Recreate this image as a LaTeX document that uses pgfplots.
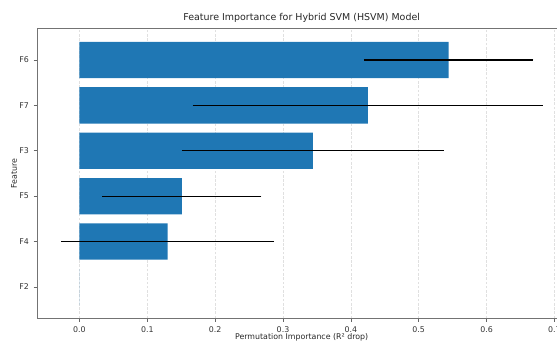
\documentclass[border=0pt]{standalone}
\usepackage{pgfplots}
\pgfplotsset{compat=1.18}
\usepackage{fontspec}
\setmainfont{DejaVu Sans}
\definecolor{barblue}{HTML}{1F77B4}
\begin{document}
\begin{tikzpicture}
\useasboundingbox (-27.75pt,-17pt) rectangle (390pt,238.75pt);
\clip (-27.75pt,-17pt) rectangle (390pt,238.75pt);
\begin{axis}[
  at={(0,0)}, anchor=south west,
  scale only axis, width=397pt, height=217.3pt,
  xmin=-0.0625, xmax=0.7175, ymin=-0.69, ymax=5.69,
  xbar, bar width=0.8, bar shift=0pt,
  ytick={0,1,2,3,4,5}, yticklabels={F2,F4,F5,F3,F7,F6},
  xtick={0,0.1,0.2,0.3,0.4,0.5,0.6,0.7},
  xticklabel style={/pgf/number format/.cd, fixed, fixed zerofill, precision=1, assume math mode=true},
  ticklabel style={font=\fontsize{5.9}{7}\selectfont, text=black!80},
  tick pos=left, tick align=outside, major tick length=2.6pt,
  tick style={black!60, line width=0.5pt},
  axis line style={black!55, line width=0.6pt},
  xmajorgrids, grid style={dash pattern=on 2pt off 1.2pt, black!12, line width=0.4pt},
  title={Feature Importance for Hybrid SVM (HSVM) Model},
  title style={at={(axis description cs:0.5,1)}, anchor=center, yshift=1.8pt, font=\fontsize{7.1}{8}\selectfont, text=black!85},
  xlabel={Permutation Importance (R² drop)},
  xlabel style={at={(axis description cs:0.5,0)}, anchor=center, yshift=-14.5pt, font=\fontsize{5.9}{7}\selectfont, text=black!85},
  ylabel={Feature},
  ylabel style={at={(axis description cs:-0.0435,0.5)}, anchor=center, font=\fontsize{5.9}{7}\selectfont, text=black!85},
]
\addplot[fill=barblue, draw=none,
  error bars/.cd, x dir=both, x explicit, error mark=none,
  error bar style={black, line width=0.9pt}]
coordinates {
  (0,0) +- (0,0)
  (0.130,1) +- (0.157,0)
  (0.151,2) +- (0.117,0)
  (0.344,3) +- (0.193,0)
  (0.425,4) +- (0.258,0)
  (0.544,5) +- (0.125,0)
};
\end{axis}
\end{tikzpicture}
\end{document}
